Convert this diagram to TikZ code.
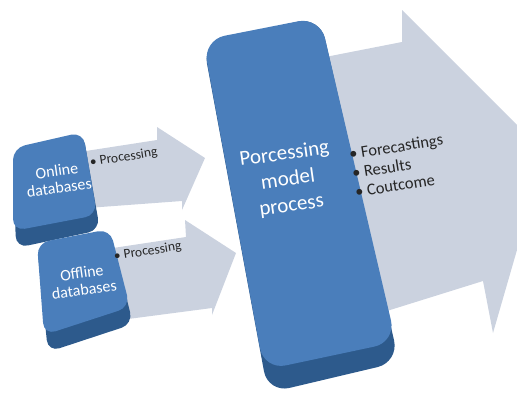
\documentclass[tikz,border=0pt]{standalone}
\usepackage{fontspec}
\setmainfont{Carlito}
\definecolor{boxface}{HTML}{4A7EBB}
\definecolor{boxdark}{HTML}{2D5A8C}
\definecolor{arrowfill}{HTML}{CBD2DF}
\tikzset{
  bigarrow/.style={fill=arrowfill},
  boxdepth/.style={fill=boxdark, rounded corners=#1},
  boxtop/.style={fill=boxface, rounded corners=#1},
  whitetxt/.style={text=white, align=center, rotate=8, inner sep=0pt},
  listtxt/.style={text=black!85, align=left, rotate=9, inner sep=0pt, anchor=west}
}
\begin{document}
\begin{tikzpicture}[x=1pt,y=-1pt]
\useasboundingbox (0,0) rectangle (517,399);
\begin{scope}
\clip (0,0) rectangle (517,399);
% big output arrow
\fill[bigarrow] (310,60) -- (402,42) -- (402,10) -- (545,153) -- (493,333) -- (483,281) -- (310,335) -- cycle;
% central box
\fill[boxdepth=22] (203,42) -- (320,17) -- (399,362) -- (268,393) -- cycle;
\fill[boxtop=22] (203,40) -- (320,17) -- (396,342) -- (264,370) -- cycle;
% small arrows
\fill[bigarrow] (60,155) -- (157,140) -- (157,127) -- (205,158) -- (182,210) -- (182,201) -- (60,210) -- cycle;
\fill[bigarrow] (80,253) -- (186,237) -- (185,220) -- (236,253) -- (212,315) -- (212,308) -- (90,324) -- cycle;
% online box
\fill[boxdepth=12] (13,150) -- (83,133) -- (100,230) -- (16,248) -- cycle;
\fill[boxtop=12] (13,148) -- (83,132) -- (97,215) -- (13,231) -- cycle;
% offline box
\fill[boxdepth=12] (37,245) -- (110,231) -- (133,324) -- (48,352) -- cycle;
\fill[boxtop=12] (37,243) -- (110,229) -- (130,307) -- (44,335) -- cycle;
\end{scope}
% texts
\node[whitetxt, font=\fontsize{16}{17}\selectfont] (onl) at (58,179) {Online\\databases};
\node[whitetxt, font=\fontsize{16}{17}\selectfont] (off) at (83,281) {Offline\\databases};
\node[whitetxt, font=\fontsize{21}{26}\selectfont] (main) at (288,180) {Porcessing\\model\\process};
\node[listtxt, font=\fontsize{13.5}{15}\selectfont] (p1) at (90,163) {• Processing};
\node[listtxt, font=\fontsize{13.5}{15}\selectfont] (p2) at (114,257) {• Processing};
\node[listtxt, font=\fontsize{16.5}{19}\selectfont] (outs) at (352,173) {• Forecastings\\• Results\\• Coutcome};
\end{tikzpicture}
\end{document}
